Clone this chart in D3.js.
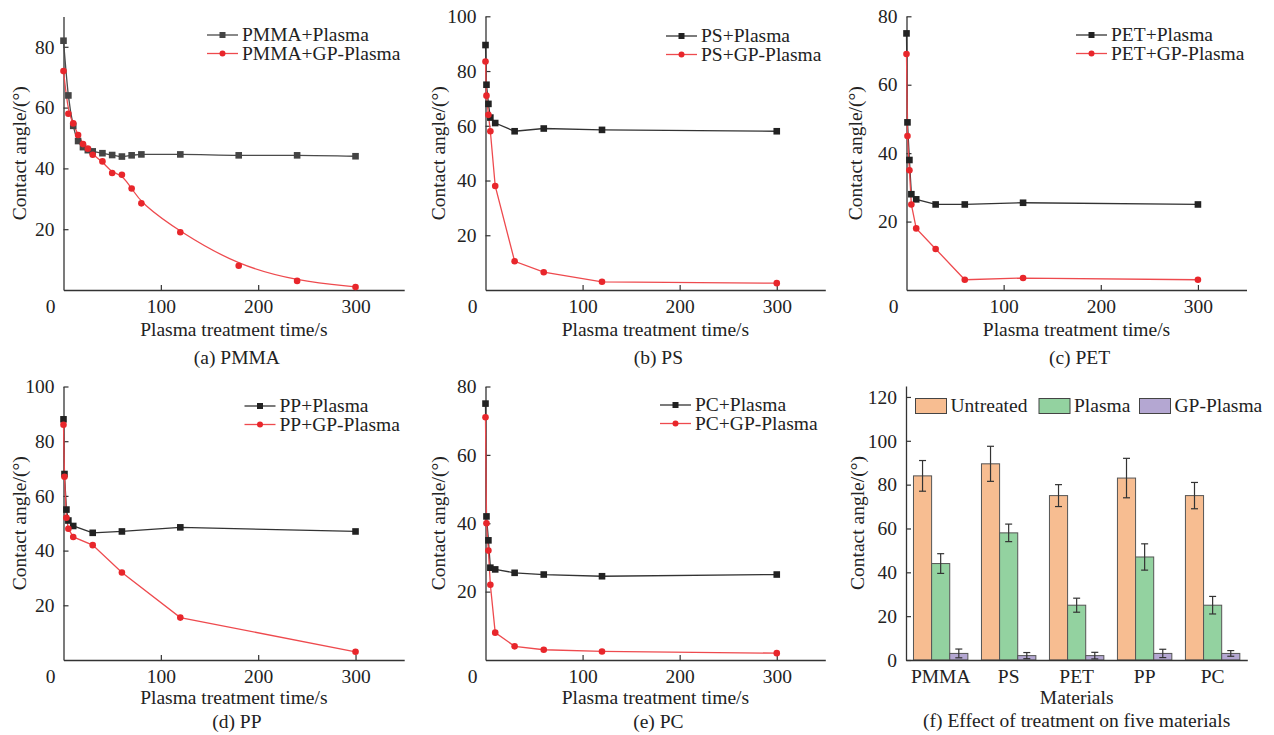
<!DOCTYPE html>
<html>
<head>
<meta charset="utf-8">
<script src="https://cdn.jsdelivr.net/npm/d3@7"></script>
<style>
  body { margin: 0; background: #fff; }
  svg text { font-family: "Liberation Serif", "Times New Roman", serif; fill: #222; }
</style>
</head>
<body>
<script>
// treatment times (s)
const timesA = [0, 5, 10, 15, 20, 25, 30, 40, 50, 60, 70, 80, 120, 180, 240, 300];
const times = [0, 1, 3, 5, 10, 30, 60, 120, 300];

// contact angles
const pmmaPlasma = [82, 64, 54, 49, 47, 46, 45.6, 45, 44.4, 43.9, 44.3, 44.6, 44.6, 44.3, 44.3, 44];
const pmmaGP = [72, 58, 54.8, 51, 48, 46.5, 44.5, 42.3, 38.5, 37.9, 33.4, 28.5, 19, 8, 3, 1];
const psPlasma = [89.5, 75, 68, 63, 61, 58, 59, 58.5, 58];
const psGP = [83.5, 71, 64, 58, 38, 10.5, 6.5, 3, 2.5];
const petPlasma = [75, 49, 38, 28, 26.5, 25, 25, 25.5, 25];
const petGP = [69, 45, 35, 25, 18, 12, 3, 3.5, 3];
const ppPlasma = [88, 68, 55, 51, 49, 46.5, 47, 48.5, 47];
const ppGP = [86, 67, 52, 48, 45, 42, 32, 15.5, 3];
const pcPlasma = [75, 42, 35, 27, 26.5, 25.5, 25, 24.5, 25];
const pcGP = [71, 40, 32, 22, 8, 4, 3, 2.5, 2];

// bar chart (f)
const materials = ["PMMA", "PS", "PET", "PP", "PC"];
const groups = ["Untreated", "Plasma", "GP-Plasma"];
const untreated = [84, 89.5, 75, 83, 75];
const untreatedErr = [7, 8, 5, 9, 6];
const plasma = [44, 58, 25, 47, 25];
const plasmaErr = [4.5, 4, 3.2, 6, 4];
const gpPlasma = [3, 2, 2, 3, 3];
const gpPlasmaErr = [2, 1.4, 1.5, 1.9, 1.3];

const xTicks = [100, 200, 300];

const W = 1274, H = 735;
const svg = d3.select("body").append("svg").attr("width", W).attr("height", H);

const fs = "19.5px";
const axisColor = "#333";
const redLine = "#ee4a4e", redDot = "#e8262b";

function styleAxis(g) {
  g.select(".domain").attr("stroke", axisColor).attr("stroke-width", 1.3);
  g.selectAll(".tick line").attr("stroke", axisColor).attr("stroke-width", 1.2);
  g.selectAll(".tick text").style("font-size", fs).attr("fill", "#222");
}

// line panels
const panels = [
  { x0: 63.5, x1: 404.2, yb: 290, yt: 16.4, ymax: 90, yTicks: [20, 40, 60, 80],
    names: ["PMMA+Plasma", "PMMA+GP-Plasma"], t: timesA, s1: pmmaPlasma, s2: pmmaGP,
    c1: "#4a4a4a", m1: "#444", smooth: true, lx: 207, ly: 35, ylx: 19.5, label: "(a) PMMA" },
  { x0: 485.5, x1: 825.3, yb: 290, yt: 16.3, ymax: 100, yTicks: [20, 40, 60, 80, 100],
    names: ["PS+Plasma", "PS+GP-Plasma"], t: times, s1: psPlasma, s2: psGP,
    c1: "#333", m1: "#222", smooth: false, lx: 666, ly: 36, ylx: 438.5, label: "(b) PS" },
  { x0: 906.5, x1: 1246.5, yb: 290, yt: 16.3, ymax: 80, yTicks: [20, 40, 60, 80],
    names: ["PET+Plasma", "PET+GP-Plasma"], t: times, s1: petPlasma, s2: petGP,
    c1: "#333", m1: "#222", smooth: false, lx: 1076, ly: 35, ylx: 855, label: "(c) PET" },
  { x0: 63.5, x1: 404.2, yb: 660, yt: 386.5, ymax: 100, yTicks: [20, 40, 60, 80, 100],
    names: ["PP+Plasma", "PP+GP-Plasma"], t: times, s1: ppPlasma, s2: ppGP,
    c1: "#333", m1: "#222", smooth: false, lx: 244.5, ly: 406, ylx: 19.5, label: "(d) PP" },
  { x0: 485.5, x1: 825.3, yb: 660, yt: 386.5, ymax: 80, yTicks: [20, 40, 60, 80],
    names: ["PC+Plasma", "PC+GP-Plasma"], t: times, s1: pcPlasma, s2: pcGP,
    c1: "#333", m1: "#222", smooth: false, lx: 660, ly: 405, ylx: 438.5, label: "(e) PC" }
];

panels.forEach(p => {
  const x = d3.scaleLinear().domain([0, 350]).range([p.x0, p.x1]);
  const y = d3.scaleLinear().domain([0, p.ymax]).range([p.yb, p.yt]);
  const g = svg.append("g");
  const top = p.yb < 400;

  g.append("g").attr("transform", "translate(0," + p.yb + ")")
    .call(d3.axisBottom(x).tickValues(xTicks).tickSizeInner(-5).tickSizeOuter(0).tickPadding(9))
    .call(styleAxis);
  g.append("g").attr("transform", "translate(" + p.x0 + ",0)")
    .call(d3.axisLeft(y).tickValues(p.yTicks).tickSizeInner(-5).tickSizeOuter(0).tickPadding(9))
    .call(styleAxis);

  // shared zero in the corner
  g.append("text").attr("x", p.x0 - 13).attr("y", p.yb + 23).attr("text-anchor", "middle")
    .style("font-size", fs).text("0");

  g.append("text").attr("x", (p.x0 + p.x1) / 2).attr("y", p.yb + (top ? 46 : 44)).attr("text-anchor", "middle")
    .style("font-size", fs).text("Plasma treatment time/s");
  g.append("text").attr("x", (p.x0 + p.x1) / 2 + 3).attr("y", p.yb + (top ? 74 : 68)).attr("text-anchor", "middle")
    .style("font-size", fs).text(p.label);
  g.append("text").attr("transform", "translate(" + p.ylx + "," + ((p.yb + p.yt) / 2) + ") rotate(-90)")
    .attr("text-anchor", "middle").attr("dy", "0.35em").style("font-size", fs).text("Contact angle/(°)");

  const d1 = p.t.map((t, i) => [t, p.s1[i]]);
  const d2 = p.t.map((t, i) => [t, p.s2[i]]);
  const line1 = d3.line().x(d => x(d[0])).y(d => y(d[1]))
    .curve(p.smooth ? d3.curveMonotoneX : d3.curveLinear);
  const line2 = d3.line().x(d => x(d[0])).y(d => y(d[1]))
    .curve(p.smooth ? d3.curveBasis : d3.curveLinear);

  g.append("path").datum(d1).attr("d", line1).attr("fill", "none")
    .attr("stroke", p.c1).attr("stroke-width", 1.3);
  g.append("path").datum(d2).attr("d", line2).attr("fill", "none")
    .attr("stroke", redLine).attr("stroke-width", 1.3);

  g.selectAll(".sq").data(d1).enter().append("rect")
    .attr("x", d => x(d[0]) - 3.3).attr("y", d => y(d[1]) - 3.3)
    .attr("width", 6.6).attr("height", 6.6).attr("fill", p.m1);
  g.selectAll(".dot").data(d2).enter().append("circle")
    .attr("cx", d => x(d[0])).attr("cy", d => y(d[1])).attr("r", 3.3).attr("fill", redDot);

  // legend
  const lg = g.append("g");
  [0, 1].forEach(i => {
    const yy = p.ly + i * 18.5;
    lg.append("line").attr("x1", p.lx).attr("x2", p.lx + 31).attr("y1", yy).attr("y2", yy)
      .attr("stroke", i === 0 ? p.c1 : redLine).attr("stroke-width", 1.3);
    if (i === 0) {
      lg.append("rect").attr("x", p.lx + 15.5 - 3).attr("y", yy - 3).attr("width", 6).attr("height", 6).attr("fill", p.m1);
    } else {
      lg.append("circle").attr("cx", p.lx + 15.5).attr("cy", yy).attr("r", 3).attr("fill", redDot);
    }
    lg.append("text").attr("x", p.lx + 35).attr("y", yy).attr("dy", "0.33em")
      .style("font-size", fs).text(p.names[i]);
  });
});

// bar chart (f)
(function () {
  const x0 = 906, x1 = 1247.3, yb = 660, yt = 386;
  const x = d3.scaleBand().domain(materials).range([x0, x1]).paddingInner(0.2).paddingOuter(0.11);
  const xi = d3.scaleBand().domain(groups).range([0, x.bandwidth()]);
  const y = d3.scaleLinear().domain([0, 125]).range([yb, yt]);
  const colors = ["#f7bd91", "#93d2a0", "#b4a7d2"];
  const vals = [untreated, plasma, gpPlasma];
  const errs = [untreatedErr, plasmaErr, gpPlasmaErr];
  const g = svg.append("g");

  groups.forEach((grp, k) => {
    const data = materials.map((m, i) => ({ m: m, v: vals[k][i], e: errs[k][i] }));
    g.selectAll(".bar" + k).data(data).enter().append("rect")
      .attr("x", d => x(d.m) + xi(grp)).attr("y", d => y(d.v))
      .attr("width", xi.bandwidth()).attr("height", d => yb - y(d.v))
      .attr("fill", colors[k]).attr("stroke", "#555").attr("stroke-width", 1);
    const eb = g.selectAll(".err" + k).data(data).enter().append("g")
      .attr("transform", d => "translate(" + (x(d.m) + xi(grp) + xi.bandwidth() / 2) + ",0)");
    eb.append("line").attr("y1", d => y(d.v + d.e)).attr("y2", d => y(Math.max(0, d.v - d.e)))
      .attr("stroke", "#333").attr("stroke-width", 1.2);
    eb.append("line").attr("x1", -3.5).attr("x2", 3.5).attr("y1", d => y(d.v + d.e)).attr("y2", d => y(d.v + d.e))
      .attr("stroke", "#333").attr("stroke-width", 1.2);
    eb.append("line").attr("x1", -3.5).attr("x2", 3.5)
      .attr("y1", d => y(Math.max(0, d.v - d.e))).attr("y2", d => y(Math.max(0, d.v - d.e)))
      .attr("stroke", "#333").attr("stroke-width", 1.2);
  });

  g.append("g").attr("transform", "translate(0," + yb + ")")
    .call(d3.axisBottom(x).tickSize(0).tickPadding(9))
    .call(styleAxis);
  g.append("g").attr("transform", "translate(" + x0 + ",0)")
    .call(d3.axisLeft(y).tickValues(d3.range(0, 121, 20)).tickSizeInner(-5).tickSizeOuter(0).tickPadding(9))
    .call(styleAxis);

  g.append("text").attr("x", (x0 + x1) / 2).attr("y", 704).attr("text-anchor", "middle")
    .style("font-size", fs).text("Materials");
  g.append("text").attr("x", (x0 + x1) / 2).attr("y", 727).attr("text-anchor", "middle")
    .style("font-size", fs).text("(f) Effect of treatment on five materials");
  g.append("text").attr("transform", "translate(857," + ((yb + yt) / 2) + ") rotate(-90)")
    .attr("text-anchor", "middle").attr("dy", "0.35em").style("font-size", fs).text("Contact angle/(°)");

  const legX = [915.5, 1039, 1139.5];
  groups.forEach((grp, k) => {
    g.append("rect").attr("x", legX[k]).attr("y", 398.5).attr("width", 31).attr("height", 15)
      .attr("fill", colors[k]).attr("stroke", "#444").attr("stroke-width", 1);
    g.append("text").attr("x", legX[k] + 35).attr("y", 406).attr("dy", "0.33em")
      .style("font-size", fs).text(grp);
  });
})();
</script>
</body>
</html>
